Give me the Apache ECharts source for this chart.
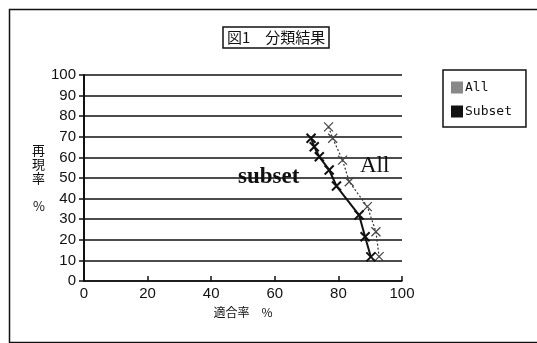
<!DOCTYPE html>
<html><head><meta charset="utf-8">
<script src="https://cdn.jsdelivr.net/npm/echarts@6/dist/echarts.min.js"></script>
<style>html,body{margin:0;padding:0;background:#fff}#c{width:537px;height:343px}</style>
</head><body><div id="c"></div>
<script>
const titleText = '図1　分類結果';
const seriesNames = ['All', 'Subset'];
const allPoints = [[76.9,74.8],[78.2,69.3],[81.3,58.7],[83.4,48.2],[89.1,36.1],[91.8,23.9],[92.8,11.8]];
const subsetPoints = [[71.4,69.3],[72.4,65.2],[74.0,60.3],[77.1,53.9],[79.4,46.1],[86.5,32.0],[88.4,21.5],[90.2,11.7]];
const xName = '適合率　%';
const yName = '再\n現\n率\n\n%';

// checkered pattern for "All"
const pc = document.createElement('canvas');
pc.width = 2; pc.height = 2;
const pctx = pc.getContext('2d');
pctx.fillStyle = '#fff'; pctx.fillRect(0,0,2,2);
pctx.fillStyle = '#111'; pctx.fillRect(0,0,1,1); pctx.fillRect(1,1,1,1);

const xSym = 'path://M0,0L10,10M10,0L0,10';
const chart = echarts.init(document.getElementById('c'));
const tickFont = {fontFamily: 'Liberation Sans Narrow, Liberation Sans, sans-serif', fontSize: 15, color: '#111'};
chart.setOption({
  animation: false,
  backgroundColor: '#fff',
  title: {
    text: titleText, left: 223, top: 27,
    padding: [3, 4, 3, 4],
    borderColor: '#111', borderWidth: 1.5,
    textStyle: {fontFamily: 'Noto Sans CJK JP', fontSize: 15, fontWeight: 'normal', color: '#111'}
  },
  legend: {
    orient: 'vertical', left: 443, top: 70,
    padding: [11, 14, 9, 8],
    itemGap: 11,
    borderColor: '#111', borderWidth: 1.5,
    itemWidth: 12, itemHeight: 12,
    textStyle: {fontFamily: 'DejaVu Sans Mono, Liberation Mono, monospace', fontSize: 13, color: '#111', padding: [0,0,0,-3]},
    data: [
      {name: 'All', icon: 'rect', itemStyle: {color: {image: pc, repeat: 'repeat'}, borderWidth: 0}},
      {name: 'Subset', icon: 'rect', itemStyle: {color: '#111', borderWidth: 0}}
    ]
  },
  grid: {left: 84, right: 135, top: 75, bottom: 62},
  xAxis: {
    type: 'value', min: 0, max: 100, interval: 20,
    name: xName, nameLocation: 'middle', nameGap: 25,
    nameTextStyle: {fontFamily: 'Noto Sans CJK JP', fontSize: 12, color: '#111'},
    axisLine: {lineStyle: {color: '#111', width: 1.5}},
    axisTick: {inside: true, length: 5, lineStyle: {color: '#111', width: 1.5}},
    axisLabel: Object.assign({margin: 5}, tickFont),
    splitLine: {show: false}
  },
  yAxis: {
    type: 'value', min: 0, max: 100, interval: 10,
    name: yName, nameLocation: 'middle', nameGap: 34, nameRotate: 0,
    nameTextStyle: {fontFamily: 'Noto Sans CJK JP', fontSize: 13, color: '#111', lineHeight: 14},
    axisLine: {lineStyle: {color: '#111', width: 2}},
    axisTick: {length: 5, lineStyle: {color: '#111', width: 1.5}},
    axisLabel: Object.assign({margin: 8}, tickFont),
    splitLine: {lineStyle: {color: '#111', width: 1.6}}
  },
  series: [
    {
      name: 'All', type: 'line', data: allPoints,
      symbol: xSym, symbolSize: 9, showAllSymbol: true,
      lineStyle: {color: '#333', width: 1.2, type: [2, 2]},
      itemStyle: {color: {image: pc, repeat: 'repeat'}, borderColor: '#444', borderWidth: 1.2},
      z: 2
    },
    {
      name: 'Subset', type: 'line', data: subsetPoints,
      symbol: xSym, symbolSize: 9, showAllSymbol: true,
      lineStyle: {color: '#111', width: 2},
      itemStyle: {color: '#111', borderColor: '#111', borderWidth: 2},
      z: 3
    }
  ],
  graphic: [
    {type: 'rect', left: 7, top: 7, shape: {width: 545, height: 333}, style: {fill: 'none', stroke: '#111', lineWidth: 1.5}, silent: true, z: -1},
    {type: 'text', left: 238, top: 166, style: {text: 'subset', font: 'bold 23px "Liberation Serif", serif', fill: '#111'}},
    {type: 'text', left: 360, top: 154, style: {text: 'All', font: '23px "Liberation Serif", serif', fill: '#111'}}
  ]
});
</script></body></html>
